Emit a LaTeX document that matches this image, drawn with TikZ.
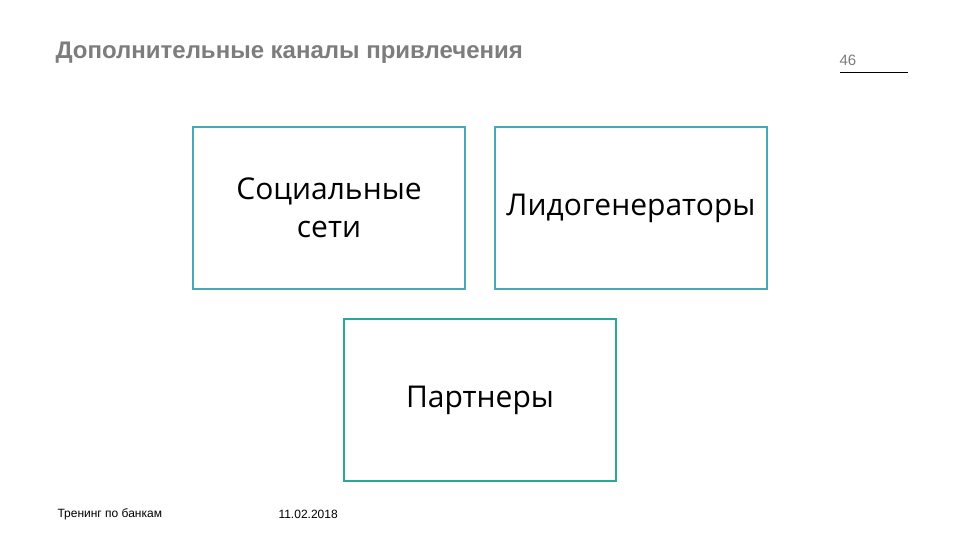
\documentclass[tikz,border=0pt]{standalone}
\usepackage{fontspec}
\setmainfont{Open Sans}
\newfontfamily\arialfont{Liberation Sans}
\definecolor{FrameTeal}{RGB}{70, 170, 180}
\definecolor{FrameGreen}{RGB}{40, 168, 150}
\definecolor{TitleGray}{RGB}{125, 125, 125}
\tikzstyle{channel} = [rectangle, minimum width=272pt, minimum height=162pt, align=center, draw=FrameTeal, line width=2pt, font=\fontsize{30}{38}\selectfont]
\tikzstyle{footer} = [anchor=west, font=\arialfont\fontsize{12}{14}\selectfont]

\begin{document}
\begin{tikzpicture}[x=1pt, y=-1pt]
\useasboundingbox[fill=white] (0,0) rectangle (960,540);

% Titre
\node (title) [anchor=west, text=TitleGray, font=\arialfont\bfseries\fontsize{24}{26}\selectfont] at (52,53) {Дополнительные каналы привлечения};
\node (pagenum) [anchor=west, text=TitleGray, font=\arialfont\fontsize{15}{16}\selectfont] at (836,60) {46};
\coordinate (rulel) at (840,72);
\coordinate (ruler) at (908,72);
\draw [line width=0.8pt] (rulel) -- (ruler);

% Canaux
\node (social) [channel] at (329,208) {Социальные\\сети};
\node (leadgen) [channel] at (631,208) {Лидогенераторы};
\node (partners) [channel, draw=FrameGreen] at (480,400) {Партнеры};

% Pied de page
\node (training) [footer] at (54,514) {Тренинг по банкам};
\node (date) [footer] at (275,514) {11.02.2018};

\end{tikzpicture}
\end{document}
